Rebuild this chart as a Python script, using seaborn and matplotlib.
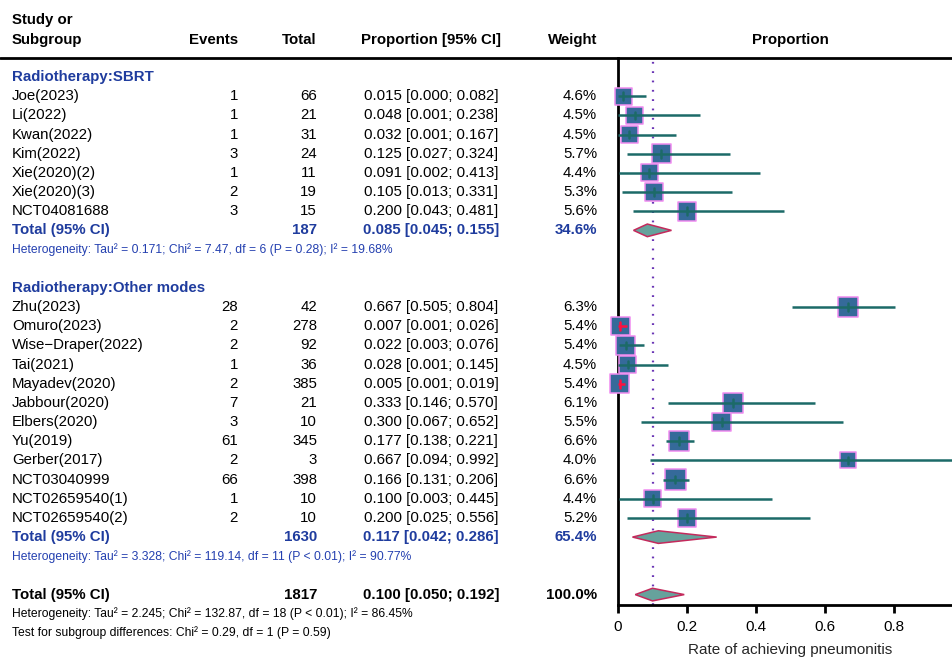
import matplotlib
matplotlib.use("Agg")
import matplotlib.pyplot as plt
import matplotlib.transforms as mtransforms
from matplotlib.lines import Line2D
from matplotlib.patches import Polygon
import numpy as np
import pandas as pd
import seaborn as sns

# ---- study-level data -------------------------------------------------------
sbrt_studies = ["Joe(2023)", "Li(2022)", "Kwan(2022)", "Kim(2022)",
                "Xie(2020)(2)", "Xie(2020)(3)", "NCT04081688"]
sbrt_events = [1, 1, 1, 3, 1, 2, 3]
sbrt_totals = [66, 21, 31, 24, 11, 19, 15]
sbrt_prop = [0.015, 0.048, 0.032, 0.125, 0.091, 0.105, 0.200]
sbrt_lo = [0.000, 0.001, 0.001, 0.027, 0.002, 0.013, 0.043]
sbrt_hi = [0.082, 0.238, 0.167, 0.324, 0.413, 0.331, 0.481]
sbrt_weight = [4.6, 4.5, 4.5, 5.7, 4.4, 5.3, 5.6]

other_studies = ["Zhu(2023)", "Omuro(2023)", "Wise\u2212Draper(2022)", "Tai(2021)",
                 "Mayadev(2020)", "Jabbour(2020)", "Elbers(2020)", "Yu(2019)",
                 "Gerber(2017)", "NCT03040999", "NCT02659540(1)", "NCT02659540(2)"]
other_events = [28, 2, 2, 1, 2, 7, 3, 61, 2, 66, 1, 2]
other_totals = [42, 278, 92, 36, 385, 21, 10, 345, 3, 398, 10, 10]
other_prop = [0.667, 0.007, 0.022, 0.028, 0.005, 0.333, 0.300, 0.177, 0.667, 0.166, 0.100, 0.200]
other_lo = [0.505, 0.001, 0.003, 0.001, 0.001, 0.146, 0.067, 0.138, 0.094, 0.131, 0.003, 0.025]
other_hi = [0.804, 0.026, 0.076, 0.145, 0.019, 0.570, 0.652, 0.221, 0.992, 0.206, 0.445, 0.556]
other_weight = [6.3, 5.4, 5.4, 4.5, 5.4, 6.1, 5.5, 6.6, 4.0, 6.6, 4.4, 5.2]

# ---- pooled estimates ---------------------------------------------------------
pooled_labels = ["SBRT", "Other", "Overall"]
pooled_n = [187, 1630, 1817]
pooled_prop = [0.085, 0.117, 0.100]
pooled_lo = [0.045, 0.042, 0.050]
pooled_hi = [0.155, 0.286, 0.192]
pooled_weight = ["34.6%", "65.4%", "100.0%"]

het_sbrt = "Heterogeneity: Tau\u00b2 = 0.171; Chi\u00b2 = 7.47, df = 6 (P = 0.28); I\u00b2 = 19.68%"
het_other = "Heterogeneity: Tau\u00b2 = 3.328; Chi\u00b2 = 119.14, df = 11 (P < 0.01); I\u00b2 = 90.77%"
het_all = "Heterogeneity: Tau\u00b2 = 2.245; Chi\u00b2 = 132.87, df = 18 (P < 0.01); I\u00b2 = 86.45%"
subgroup_test = "Test for subgroup differences: Chi\u00b2 = 0.29, df = 1 (P = 0.59)"

x_ticks = [0, 0.2, 0.4, 0.6, 0.8]
x_tick_labels = ["0", "0.2", "0.4", "0.6", "0.8"]

# ---- style --------------------------------------------------------------------
sns.set_theme(style="white")
plt.rcParams["font.family"] = ["Liberation Sans", "DejaVu Sans"]

BLUE = "#1f3c9e"
SQ_FILL = "#356a9a"
SQ_EDGE = "#f08cf0"
CI_COL = "#1c6a68"
INSIDE_COL = "#ff1040"
DIA_FILL = "#66a29c"
DIA_EDGE = "#c42a5c"
REF_COL = "#6a35b5"

W, H = 953, 657
fig = plt.figure(figsize=(W / 100, H / 100), dpi=100)
ROW0, ROWH = 77.0, 19.17          # pixel y of row 0 and row pitch
ax_top, ax_bot = 58.0, 605.0
ax = fig.add_axes([618 / W, 1 - ax_bot / H, 345 / W, (ax_bot - ax_top) / H])
ax.set_xlim(0, 1)
ax.set_ylim((ax_bot - ROW0) / ROWH, (ax_top - ROW0) / ROWH)

# row layout
sbrt_rows = list(range(1, 1 + len(sbrt_studies)))
other_rows = list(range(12, 12 + len(other_studies)))
pooled_rows = [8, 24, 27]

df = pd.DataFrame({
    "study": sbrt_studies + other_studies,
    "events": sbrt_events + other_events,
    "total": sbrt_totals + other_totals,
    "prop": sbrt_prop + other_prop,
    "lo": sbrt_lo + other_lo,
    "hi": sbrt_hi + other_hi,
    "weight": sbrt_weight + other_weight,
    "row": sbrt_rows + other_rows,
})

# square side (px) grows with sqrt(weight) so the area follows the weight
px_per_unit = 345.0
side_px = 8.1 * np.sqrt(df["weight"])
half_w = side_px / 2 / px_per_unit
df["inside"] = (df["lo"] >= df["prop"] - half_w) & (df["hi"] <= df["prop"] + half_w)

# reference line at the overall estimate
ax.axvline(pooled_prop[2], color=REF_COL, lw=1.6, ls=(0, (0.8, 3.4)), zorder=1)

# weighted squares
k = 33.0
sns.scatterplot(data=df, x="prop", y="row", size="weight",
                sizes=(k * min(df["weight"]), k * max(df["weight"])),
                size_norm=(min(df["weight"]), max(df["weight"])),
                marker="s", color=SQ_FILL, edgecolor=SQ_EDGE, linewidth=1.1,
                legend=False, ax=ax, zorder=3, clip_on=False)

# confidence intervals and point ticks
for _, r in df.iterrows():
    col = INSIDE_COL if r["inside"] else CI_COL
    ax.plot([r["lo"], r["hi"]], [r["row"], r["row"]], color=col, lw=1.8,
            solid_capstyle="butt", zorder=4, clip_on=False)
    ax.plot([r["prop"], r["prop"]], [r["row"] - 0.2, r["row"] + 0.2], color=col,
            lw=1.8, zorder=4, clip_on=False)

# pooled diamonds
for row, p, lo, hi in zip(pooled_rows, pooled_prop, pooled_lo, pooled_hi):
    dh = 0.33
    ax.add_patch(Polygon([[lo, row], [p, row - dh], [hi, row], [p, row + dh]],
                         closed=True, facecolor=DIA_FILL, edgecolor=DIA_EDGE,
                         lw=1.1, zorder=3))

# axes
sns.despine(ax=ax, top=True, right=True)
for s in ("left", "bottom"):
    ax.spines[s].set_linewidth(2.0)
    ax.spines[s].set_color("black")
ax.set_yticks([])
ax.set_ylabel("")
ax.set_xticks(x_ticks)
ax.set_xticklabels(x_tick_labels)
ax.tick_params(axis="x", bottom=True, length=6, width=2, labelsize=11, pad=5,
               colors="black")
ax.set_xlabel("Rate of achieving pneumonitis", fontsize=11, labelpad=6)

# header rule across the whole figure
fig.add_artist(Line2D([0, 1], [1 - ax_top / H, 1 - ax_top / H],
                      transform=fig.transFigure, color="black", lw=2.0))

# ---- text columns ---------------------------------------------------------------
tr = mtransforms.blended_transform_factory(fig.transFigure, ax.transData)


def put(xpx, row, s, ha="left", size=10.8, weight="normal", color="black"):
    ax.text(xpx / W, row, s, transform=tr, ha=ha, va="center", fontsize=size,
            fontweight=weight, color=color, clip_on=False)


def rowpos(ypx):
    return (ypx - ROW0) / ROWH


X_STUDY, X_EV, X_TOT, X_CI, X_W = 12, 238, 317, 431, 597

put(X_STUDY, rowpos(20), "Study or", weight="bold")
put(X_STUDY, rowpos(40), "Subgroup", weight="bold")
put(X_EV, rowpos(40), "Events", ha="right", weight="bold")
put(X_TOT, rowpos(40), "Total", ha="right", weight="bold")
put(X_CI, rowpos(40), "Proportion [95% CI]", ha="center", weight="bold")
put(X_W, rowpos(40), "Weight", ha="right", weight="bold")
put(790, rowpos(40), "Proportion", ha="center", weight="bold")

put(X_STUDY, 0, "Radiotherapy:SBRT", weight="bold", color=BLUE)
put(X_STUDY, 11, "Radiotherapy:Other modes", weight="bold", color=BLUE)

for _, r in df.iterrows():
    put(X_STUDY, r["row"], r["study"])
    put(X_EV, r["row"], f"{r['events']}", ha="right")
    put(X_TOT, r["row"], f"{r['total']}", ha="right")
    put(X_CI, r["row"], f"{r['prop']:.3f} [{r['lo']:.3f}; {r['hi']:.3f}]", ha="center")
    put(X_W, r["row"], f"{r['weight']:.1f}%", ha="right")

for i, row in enumerate(pooled_rows):
    col = BLUE if i < 2 else "black"
    put(X_STUDY, row, "Total (95% CI)", weight="bold", color=col)
    put(X_TOT, row, f"{pooled_n[i]}", ha="right", weight="bold", color=col)
    put(X_CI, row, f"{pooled_prop[i]:.3f} [{pooled_lo[i]:.3f}; {pooled_hi[i]:.3f}]",
        ha="center", weight="bold", color=col)
    put(X_W, row, pooled_weight[i], ha="right", weight="bold", color=col)

put(X_STUDY, 9, het_sbrt, size=8.7, color="#2440b0")
put(X_STUDY, 25, het_other, size=8.7, color="#2440b0")
put(X_STUDY, 28, het_all, size=8.7)
put(X_STUDY, 29, subgroup_test, size=8.7)

fig.savefig("out.png", dpi=100)
